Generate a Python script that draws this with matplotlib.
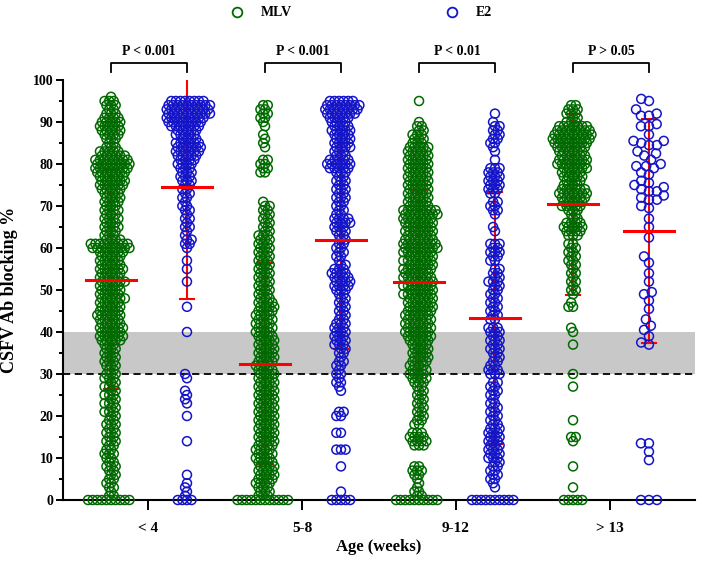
import numpy as np
import matplotlib
matplotlib.use("Agg")
import matplotlib.pyplot as plt
from matplotlib.lines import Line2D

plt.rcParams["font.family"] = ["Liberation Serif", "DejaVu Serif"]
plt.rcParams["font.weight"] = "bold"

GROUPS = ["< 4", "5-8", "9-12", "> 13"]
P_LABELS = ["P < 0.001", "P < 0.001", "P < 0.01", "P > 0.05"]

# (value, number of animals at that value)
MLV_LT4 = [(96, 1), (95, 3), (94, 3), (93, 2), (92, 3), (91, 4), (90, 5), (89, 5), (88, 5),
           (87, 4), (86, 3), (85, 2), (84, 3), (83, 5), (82, 6), (81, 8), (80, 8), (79, 8),
           (78, 7), (77, 6), (76, 6), (75, 6), (74, 5), (73, 4), (72, 4), (71, 4), (70, 3),
           (69, 4), (68, 3), (67, 4), (66, 3), (65, 4), (64, 3), (63, 3), (62, 4), (61, 9),
           (60, 9), (59, 6), (58, 5), (57, 5), (56, 5), (55, 6), (54, 5), (53, 5), (52, 6),
           (51, 5), (50, 5), (49, 5), (48, 6), (47, 5), (46, 5), (45, 5), (44, 6), (43, 5),
           (42, 5), (41, 6), (40, 5), (39, 6), (38, 5), (37, 3), (36, 3), (35, 3), (34, 3),
           (33, 3), (32, 3), (31, 2), (30, 3), (29, 3), (28, 2), (27, 3), (26, 2), (25, 3),
           (24, 2), (23, 3), (22, 2), (21, 3), (20, 2), (19, 2), (18, 3), (17, 2), (16, 3),
           (15, 2), (14, 3), (13, 2), (12, 2), (11, 3), (10, 2), (9, 2), (8, 3), (7, 2),
           (6, 2), (5, 2), (4, 2), (3, 2), (2, 1), (1, 2), (0, 10)]

MLV_5_8 = [(94, 2), (93, 2), (92, 2), (91, 2), (90, 1), (89, 1), (87, 1), (86, 1), (85, 1),
           (84, 1), (81, 2), (80, 2), (79, 2), (78, 2), (71, 1), (70, 2), (69, 2), (68, 2),
           (67, 2), (66, 2), (65, 2), (64, 2), (63, 3), (62, 3), (61, 3), (60, 3), (59, 3),
           (58, 3), (57, 3), (56, 3), (55, 3), (54, 3), (53, 3), (52, 3), (51, 3), (50, 3),
           (49, 3), (48, 3), (47, 4), (46, 4), (45, 4), (44, 4), (43, 4), (42, 4), (41, 4),
           (40, 4), (39, 4), (38, 4), (37, 4), (36, 4), (35, 4), (34, 4), (33, 4), (32, 4),
           (31, 4), (30, 4), (29, 4), (28, 4), (27, 4), (26, 4), (25, 4), (24, 4), (23, 4),
           (22, 4), (21, 4), (20, 4), (19, 4), (18, 4), (17, 4), (16, 4), (15, 4), (14, 4),
           (13, 4), (12, 4), (11, 4), (10, 4), (9, 4), (8, 4), (7, 4), (6, 4), (5, 4), (4, 4),
           (3, 3), (2, 3), (1, 3), (0, 12)]

MLV_9_12 = [(95, 1), (90, 1), (89, 2), (88, 2), (87, 3), (86, 3), (85, 3), (84, 5), (83, 5),
            (82, 5), (81, 5), (80, 5), (79, 5), (78, 5), (77, 5), (76, 5), (75, 5), (74, 5),
            (73, 5), (72, 5), (71, 5), (70, 5), (69, 8), (68, 8), (67, 7), (66, 7), (65, 6),
            (64, 7), (63, 6), (62, 7), (61, 8), (60, 8), (59, 7), (58, 6), (57, 7), (56, 6),
            (55, 7), (54, 6), (53, 7), (52, 6), (51, 7), (50, 6), (49, 7), (48, 6), (47, 6),
            (46, 6), (45, 6), (44, 6), (43, 6), (42, 6), (41, 6), (40, 6), (39, 6), (38, 5),
            (37, 4), (36, 4), (35, 4), (34, 4), (33, 4), (32, 4), (31, 4), (30, 4), (29, 4),
            (28, 3), (27, 2), (26, 2), (25, 2), (24, 2), (23, 2), (22, 2), (21, 2), (20, 2),
            (19, 2), (18, 2), (16, 3), (15, 4), (14, 4), (13, 3), (8, 2), (7, 3), (6, 2),
            (5, 1), (4, 1), (3, 1), (2, 2), (1, 2), (0, 10)]

MLV_GT13 = [(94, 2), (93, 3), (92, 3), (91, 2), (90, 3), (89, 7), (88, 8), (87, 9), (86, 9),
            (85, 8), (84, 7), (83, 6), (82, 6), (81, 7), (80, 7), (79, 6), (78, 5), (77, 5),
            (76, 4), (75, 4), (74, 6), (73, 7), (72, 6), (71, 5), (70, 5), (69, 3), (68, 2),
            (67, 2), (66, 4), (65, 5), (64, 4), (63, 3), (61, 2), (60, 2), (59, 2), (58, 2),
            (57, 2), (56, 2), (55, 1), (54, 2), (53, 1), (52, 2), (51, 1), (50, 2), (49, 1),
            (47, 1), (46, 2), (41, 1), (40, 1), (37, 1), (30, 1), (27, 1), (19, 1), (15, 2),
            (14, 1), (8, 1), (3, 1), (0, 5)]

E2_LT4 = [(95, 8), (94, 10), (93, 10), (92, 10), (91, 9), (90, 8), (89, 7), (88, 5), (87, 5),
          (86, 4), (85, 6), (84, 6), (83, 6), (82, 5), (81, 4), (80, 4), (79, 3), (78, 3),
          (77, 3), (76, 3), (75, 2), (74, 2), (73, 2), (72, 2), (71, 1), (70, 2), (69, 2),
          (68, 1), (67, 2), (66, 1), (65, 2), (64, 1), (63, 1), (62, 2), (61, 2), (60, 1),
          (57, 1), (55, 1), (52, 1), (46, 1), (40, 1), (30, 1), (29, 1), (26, 1), (25, 1),
          (24, 1), (23, 1), (20, 1), (14, 1), (6, 1), (4, 1), (3, 1), (2, 1), (1, 1), (0, 4)]

E2_5_8 = [(95, 6), (94, 8), (93, 8), (92, 7), (91, 5), (90, 4), (89, 4), (88, 5), (87, 4),
          (86, 4), (85, 4), (84, 4), (83, 3), (82, 3), (81, 5), (80, 6), (79, 5), (78, 3),
          (77, 2), (76, 3), (75, 2), (74, 3), (73, 2), (72, 3), (71, 2), (70, 2), (69, 2),
          (68, 2), (67, 4), (66, 4), (65, 3), (64, 3), (63, 2), (62, 2), (61, 2), (60, 2),
          (59, 2), (58, 2), (57, 1), (56, 2), (55, 3), (54, 4), (53, 4), (52, 4), (51, 4),
          (50, 3), (49, 2), (48, 2), (47, 2), (46, 2), (45, 2), (44, 2), (43, 2), (42, 3),
          (41, 3), (40, 3), (39, 3), (38, 3), (37, 3), (36, 2), (35, 2), (34, 1), (33, 2),
          (32, 2), (31, 1), (30, 2), (29, 1), (28, 2), (27, 1), (26, 1), (21, 2), (20, 2),
          (16, 2), (12, 3), (8, 1), (2, 1), (0, 5)]

E2_9_12 = [(92, 1), (90, 1), (89, 2), (88, 2), (87, 2), (86, 2), (85, 2), (84, 1), (83, 1),
           (81, 1), (79, 3), (78, 3), (77, 3), (76, 3), (75, 3), (74, 3), (73, 2), (71, 2),
           (70, 2), (69, 2), (68, 1), (65, 1), (64, 1), (61, 3), (60, 2), (59, 3), (58, 2),
           (57, 2), (55, 2), (54, 2), (53, 2), (52, 3), (51, 2), (50, 2), (49, 2), (48, 2),
           (47, 2), (46, 2), (45, 2), (44, 2), (43, 2), (41, 3), (40, 3), (39, 2), (38, 3),
           (37, 2), (36, 3), (35, 2), (34, 2), (33, 2), (32, 2), (31, 3), (30, 3), (28, 2),
           (27, 2), (26, 2), (25, 2), (24, 1), (23, 2), (22, 2), (21, 2), (20, 2), (19, 2),
           (18, 2), (17, 3), (16, 3), (15, 3), (14, 3), (13, 3), (12, 3), (11, 3), (10, 3),
           (9, 2), (8, 2), (7, 2), (6, 2), (5, 2), (4, 1), (3, 1), (0, 10)]

E2_GT13 = [95.5, 95, 93, 92, 91.5, 91.5, 89.5, 89, 89, 87, 85.5, 85.5, 85, 84.5, 84.5, 83,
           82.5, 82, 81, 80, 79.5, 79.5, 79, 78, 77.5, 76, 75.5, 75, 74.5, 74, 73.5, 73.5,
           72.5, 72, 71.5, 71.5, 70, 69.5, 67, 65, 62.5, 58, 56.5, 54, 52, 49.5, 49, 47.5,
           45.5, 43, 41.5, 40.5, 39, 37.5, 37, 13.5, 13.5, 11.5, 9.5, 0, 0, 0]

MLV_DATA = [MLV_LT4, MLV_5_8, MLV_9_12, MLV_GT13]
E2_DATA = [E2_LT4, E2_5_8, E2_9_12, E2_GT13]

# mean and SD bars as drawn in the picture
MLV_MEAN = [52.5, 32.5, 51.8, 70.4]
MLV_SD = [26.0, 24.0, 22.0, 21.5]
E2_MEAN = [74.5, 62.0, 43.3, 64.0]
E2_SD = [26.7, 26.0, 30.0, 26.7]

GREEN = "#006a00"
BLUE = "#1414c8"
RED = "#ff0000"


def expand(items):
    out = []
    for it in items:
        if isinstance(it, tuple):
            out += [it[0]] * it[1]
        else:
            out.append(it)
    return np.array(out, dtype=float)


def swarm(y_px, d):
    """Greedy beeswarm: x offsets (px) so that centres are at least d apart."""
    xs = np.zeros(len(y_px))
    px_x, px_y = [], []
    for i in np.argsort(y_px, kind="stable"):
        y = y_px[i]
        x = 0.0
        if px_x:
            ax_ = np.array(px_x)
            ay_ = np.array(px_y)
            dy = np.abs(ay_ - y)
            m = dy < d
            hw = np.sqrt(d * d - dy[m] ** 2)
            lo = ax_[m] - hw
            hi = ax_[m] + hw
            cands = np.concatenate([[0.0], lo, hi])
            cands = cands[np.argsort(np.abs(cands), kind="stable")]
            for c in cands:
                if not np.any((c > lo + 1e-6) & (c < hi - 1e-6)):
                    x = c
                    break
        xs[i] = x
        px_x.append(x)
        px_y.append(y)
    return xs


W, H = 705, 562
fig = plt.figure(figsize=(W / 100, H / 100), dpi=100)
ax_left, ax_right, ax_top, ax_bot = 63, 695, 80, 500
ax = fig.add_axes([ax_left / W, 1 - ax_bot / H, (ax_right - ax_left) / W, (ax_bot - ax_top) / H])
xlim = (-0.552, 3.552)
ax.set_xlim(*xlim)
ax.set_ylim(0, 100)
x_px = (ax_right - ax_left) / (xlim[1] - xlim[0])
y_px = (ax_bot - ax_top) / 100.0

ax.axhspan(30, 40, color="#c8c8c8", lw=0, zorder=0)
ax.axhline(30, color="black", lw=1.3, ls=(0, (4, 2.5)), zorder=1)

offsets = [-0.24, 0.253]
for g in range(len(GROUPS)):
    for k, (data, means, sds, color) in enumerate([(MLV_DATA, MLV_MEAN, MLV_SD, GREEN),
                                                    (E2_DATA, E2_MEAN, E2_SD, BLUE)]):
        xc = g + offsets[k]
        vals = expand(data[g])
        d = 8.0 if (k == 1 and g == 3) else 4.6
        dx = swarm(vals * y_px, d) / x_px
        ax.scatter(xc + dx, vals, s=42, facecolors="none", edgecolors=color,
                   linewidths=1.1, clip_on=False, zorder=3)
        m, sd = means[g], sds[g]
        ax.plot([xc, xc], [m - sd, m + sd], color=RED, lw=1.5, zorder=2)
        cw = 7 / x_px
        for yy in (m - sd, m + sd):
            ax.plot([xc - cw, xc + cw], [yy, yy], color=RED, lw=1.5, zorder=2)
        mw = 25 / x_px
        ax.plot([xc - mw, xc + mw], [m, m], color=RED, lw=2.2, zorder=4)

    x1, x2 = g + offsets[0], g + offsets[1]
    ax.plot([x1, x1, x2, x2], [101.8, 104, 104, 101.8], color="black", lw=1.3,
            clip_on=False)
    ax.text((x1 + x2) / 2, 106.7, P_LABELS[g], ha="center", va="center", fontsize=10,
            fontweight="bold", clip_on=False)

for s in ("top", "right"):
    ax.spines[s].set_visible(False)
for s in ("left", "bottom"):
    ax.spines[s].set_linewidth(1.5)

ax.set_yticks(np.arange(0, 101, 10))
ax.set_yticks(np.arange(5, 100, 10), minor=True)
ax.set_xticks(range(len(GROUPS)))
ax.set_xticklabels(GROUPS)
ax.tick_params(axis="y", which="major", length=5, width=1.4, labelsize=10, pad=2)
ax.tick_params(axis="y", which="minor", length=3, width=1.4)
ax.tick_params(axis="x", which="major", length=7, width=1.4, labelsize=11, pad=9)

ax.set_xlabel("Age (weeks)", fontsize=12, fontweight="bold", labelpad=3)
ax.set_ylabel("CSFV Ab blocking %", fontsize=13, fontweight="bold")
ax.yaxis.set_label_coords(-(ax_left - 18) / (ax_right - ax_left), 0.5)

handles = [Line2D([], [], marker="o", ls="none", mfc="none", mec=GREEN, ms=7, mew=1.3),
           Line2D([], [], marker="o", ls="none", mfc="none", mec=BLUE, ms=7, mew=1.3)]
fig.legend(handles, ["MLV", "E2"], ncol=2, loc="center", bbox_to_anchor=(0.512, 0.977),
           frameon=False, prop={"weight": "bold", "size": 10}, handletextpad=1.2,
           columnspacing=11, handlelength=1)

fig.savefig("out.png", dpi=100)
